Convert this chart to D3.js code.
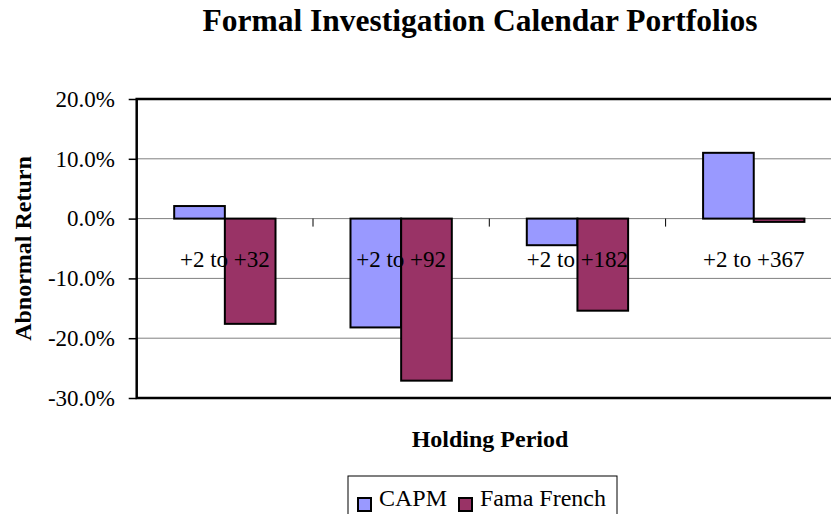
<!DOCTYPE html>
<html>
<head>
<meta charset="utf-8">
<script src="https://cdn.jsdelivr.net/npm/d3@7"></script>
<style>
  body { margin: 0; background: #fff; }
  svg { font-family: "Liberation Serif", "Times New Roman", serif; }
</style>
</head>
<body>
<script>
"use strict";

const categories = ["+2 to +32", "+2 to +92", "+2 to +182", "+2 to +367"];
const seriesNames = ["CAPM", "Fama French"];
const capm = [0.021, -0.182, -0.0445, 0.110];
const famaFrench = [-0.176, -0.271, -0.154, -0.0055];
const yTicks = [0.2, 0.1, 0, -0.1, -0.2, -0.3];
const colors = ["#9999ff", "#993366"];

const w = 831, h = 514;
const plotL = 136.7, plotT = 99, plotB = 398;
const catW = 176.3;
const plotR = plotL + catW * categories.length;

const svg = d3.select("body").append("svg")
  .attr("width", w).attr("height", h);

const x = d3.scaleBand().domain(categories).range([plotL, plotR]).paddingInner(0).paddingOuter(0);
const xs = d3.scaleBand().domain(seriesNames).range([0, x.bandwidth()]).paddingInner(0).paddingOuter(0.74);
const y = d3.scaleLinear().domain([-0.3, 0.2]).range([plotB, plotT]);

// gridlines
svg.append("g").selectAll("line")
  .data(yTicks.filter(t => t > -0.3))
  .enter().append("line")
  .attr("x1", plotL).attr("x2", plotR)
  .attr("y1", d => y(d)).attr("y2", d => y(d))
  .attr("stroke", "#808080").attr("stroke-width", 1);

// category divider ticks on zero line
svg.append("g").selectAll("line")
  .data(categories.slice(1)).enter().append("line")
  .attr("x1", d => x(d)).attr("x2", d => x(d))
  .attr("y1", y(0)).attr("y2", y(0) + 8)
  .attr("stroke", "#000").attr("stroke-width", 1);

// bars
const rows = categories.map((c, i) => ({cat: c, vals: [capm[i], famaFrench[i]]}));
const groups = svg.append("g").selectAll("g")
  .data(rows).enter().append("g")
  .attr("transform", d => "translate(" + x(d.cat) + ",0)");
groups.selectAll("rect")
  .data(d => d.vals.map((v, k) => ({name: seriesNames[k], v: v, k: k})))
  .enter().append("rect")
  .attr("x", d => xs(d.name))
  .attr("width", xs.bandwidth())
  .attr("y", d => y(Math.max(0, d.v)))
  .attr("height", d => Math.abs(y(d.v) - y(0)))
  .attr("fill", d => colors[d.k])
  .attr("stroke", "#000").attr("stroke-width", 2);

// category labels (drawn over bars)
const xAxis = d3.axisBottom(x).tickSize(0).tickFormat(d => d);
const gx = svg.append("g").attr("transform", "translate(0," + y(0) + ")").call(xAxis);
gx.select(".domain").remove();
gx.selectAll("text").attr("dy", 0).attr("y", 48)
  .style("font-size", "23px").style("font-family", "Liberation Serif").attr("fill", "#000");

// y axis
const yAxis = d3.axisLeft(y).tickValues(yTicks).tickSize(8).tickPadding(13.7)
  .tickFormat(d => (d * 100).toFixed(1) + "%");
const gy = svg.append("g").attr("transform", "translate(" + plotL + ",0)").call(yAxis);
gy.select(".domain").remove();
gy.selectAll("line").attr("stroke-width", 1.5);
gy.selectAll("text").style("font-size", "23px").style("font-family", "Liberation Serif").attr("fill", "#000");

// plot frame
svg.append("rect")
  .attr("x", plotL).attr("y", plotT)
  .attr("width", plotR - plotL).attr("height", plotB - plotT)
  .attr("fill", "none").attr("stroke", "#000").attr("stroke-width", 2.5);

// titles
svg.append("text").attr("x", 480).attr("y", 31).attr("text-anchor", "middle")
  .style("font-size", "31.5px").style("font-weight", "bold")
  .text("Formal Investigation Calendar Portfolios");
svg.append("text").attr("x", 490).attr("y", 447).attr("text-anchor", "middle")
  .style("font-size", "24px").style("font-weight", "bold")
  .text("Holding Period");
svg.append("text").attr("transform", "translate(31,248.5) rotate(-90)").attr("text-anchor", "middle")
  .style("font-size", "24px").style("font-weight", "bold")
  .text("Abnormal Return");

// legend
const lg = svg.append("g");
lg.append("rect").attr("x", 348).attr("y", 476).attr("width", 269).attr("height", 50)
  .attr("fill", "#fff").attr("stroke", "#000").attr("stroke-width", 1);
const lx = [358, 459];
seriesNames.forEach((s, k) => {
  lg.append("rect").attr("x", lx[k]).attr("y", 498).attr("width", 13).attr("height", 13)
    .attr("fill", colors[k]).attr("stroke", "#000").attr("stroke-width", 2);
  lg.append("text").attr("x", lx[k] + 21).attr("y", 506)
    .style("font-size", "24px").text(s);
});
</script>
</body>
</html>
